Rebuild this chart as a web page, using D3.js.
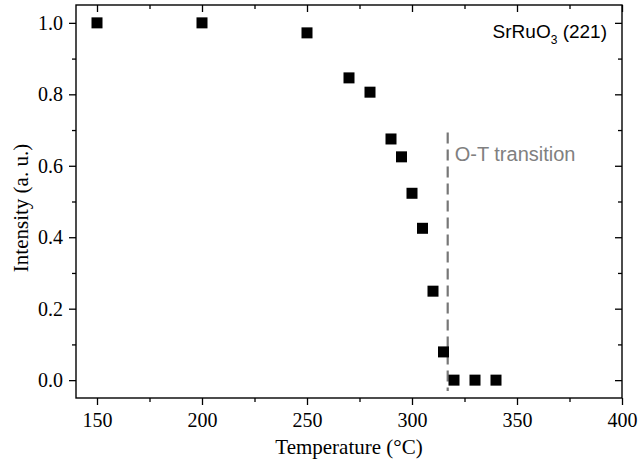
<!DOCTYPE html>
<html>
<head>
<meta charset="utf-8">
<script src="https://cdn.jsdelivr.net/npm/d3@7"></script>
<style>
  body { margin: 0; background: #fff; }
  svg { display: block; }
</style>
</head>
<body>
<div id="main"></div>
<script>
// data
var temperature = [150, 200, 250, 270, 280, 290, 295, 300, 305, 310, 315, 320, 330, 340];
var intensity = [1.0, 1.0, 0.972, 0.846, 0.806, 0.675, 0.625, 0.523, 0.425, 0.249, 0.079, 0.0, 0.0, 0.0];
var xTicks = [150, 200, 250, 300, 350, 400];
var yTicks = [0.0, 0.2, 0.4, 0.6, 0.8, 1.0];
var transitionT = 317;

var width = 639, height = 460;
var margin = {top: 5, right: 17, bottom: 62, left: 76};
var w = width - margin.left - margin.right,
    h = height - margin.top - margin.bottom;

var serif = "'Liberation Serif', 'Times New Roman', serif";
var sans = "'Liberation Sans', Arial, sans-serif";

var svg = d3.select("#main").append("svg")
    .attr("width", width)
    .attr("height", height);

var g = svg.append("g")
    .attr("transform", "translate(" + margin.left + "," + margin.top + ")");

var x = d3.scaleLinear().domain([140, 400]).range([0, w]);
var y = d3.scaleLinear().domain([-0.05, 1.05]).range([h, 0]);

var minorX = d3.range(175, 400, 50);
var minorY = d3.range(0.1, 1.0, 0.2);

// bottom axis
var axBottom = g.append("g").attr("transform", "translate(0," + h + ")")
    .call(d3.axisBottom(x).tickValues(xTicks).tickSize(7).tickPadding(8).tickFormat(d3.format("d")))
    .attr("font-family", serif).attr("font-size", 20);
axBottom.append("g").call(d3.axisBottom(x).tickValues(minorX).tickSize(4).tickFormat(""));

// left axis
var axLeft = g.append("g")
    .call(d3.axisLeft(y).tickValues(yTicks).tickSize(7).tickPadding(6).tickFormat(d3.format(".1f")))
    .attr("font-family", serif).attr("font-size", 20);
axLeft.append("g").call(d3.axisLeft(y).tickValues(minorY).tickSize(4).tickFormat(""));

// top and right mirrored axes, ticks inward
var axTop = g.append("g")
    .call(d3.axisBottom(x).tickValues(xTicks).tickSize(7).tickFormat(""));
axTop.append("g").call(d3.axisBottom(x).tickValues(minorX).tickSize(4).tickFormat(""));
var axRight = g.append("g").attr("transform", "translate(" + w + ",0)")
    .call(d3.axisLeft(y).tickValues(yTicks).tickSize(7).tickFormat(""));
axRight.append("g").call(d3.axisLeft(y).tickValues(minorY).tickSize(4).tickFormat(""));

g.selectAll(".domain").remove();
g.selectAll(".tick line").attr("stroke", "#000").attr("stroke-width", 1.3);
g.selectAll(".tick text").attr("fill", "#000");

g.append("rect")
    .attr("width", w).attr("height", h)
    .attr("fill", "none").attr("stroke", "#000").attr("stroke-width", 1.4);

// transition line
g.append("line")
    .attr("x1", x(transitionT)).attr("x2", x(transitionT))
    .attr("y1", y(0.693)).attr("y2", h - 7)
    .attr("stroke", "#777").attr("stroke-width", 2.2)
    .attr("stroke-dasharray", "11,6");

g.append("text")
    .attr("x", x(transitionT) + 7).attr("y", y(0.612))
    .attr("fill", "#808080")
    .attr("font-family", sans)
    .attr("font-size", 20)
    .text("O-T transition");

// points
g.append("g").selectAll("rect")
    .data(temperature)
    .enter()
    .append("rect")
    .attr("x", function(d) { return x(d) - 5.5; })
    .attr("y", function(d, i) { return y(intensity[i]) - 5.5; })
    .attr("width", 11).attr("height", 11)
    .attr("fill", "#000");

// label
var lab = g.append("text")
    .attr("x", w - 15).attr("y", 33)
    .attr("text-anchor", "end")
    .attr("fill", "#000")
    .attr("font-family", sans)
    .attr("font-size", 19);
lab.append("tspan").text("SrRuO");
lab.append("tspan").attr("dy", 6).attr("font-size", 12).text("3");
lab.append("tspan").attr("dy", -6).text(" (221)");

// axis titles
svg.append("text")
    .attr("x", margin.left + w / 2).attr("y", 454)
    .attr("text-anchor", "middle")
    .attr("font-family", serif)
    .attr("font-size", 21)
    .text("Temperature (\u00B0C)");

svg.append("text")
    .attr("transform", "translate(28,208) rotate(-90)")
    .attr("text-anchor", "middle")
    .attr("font-family", serif)
    .attr("font-size", 21)
    .text("Intensity (a. u.)");
</script>
</body>
</html>
